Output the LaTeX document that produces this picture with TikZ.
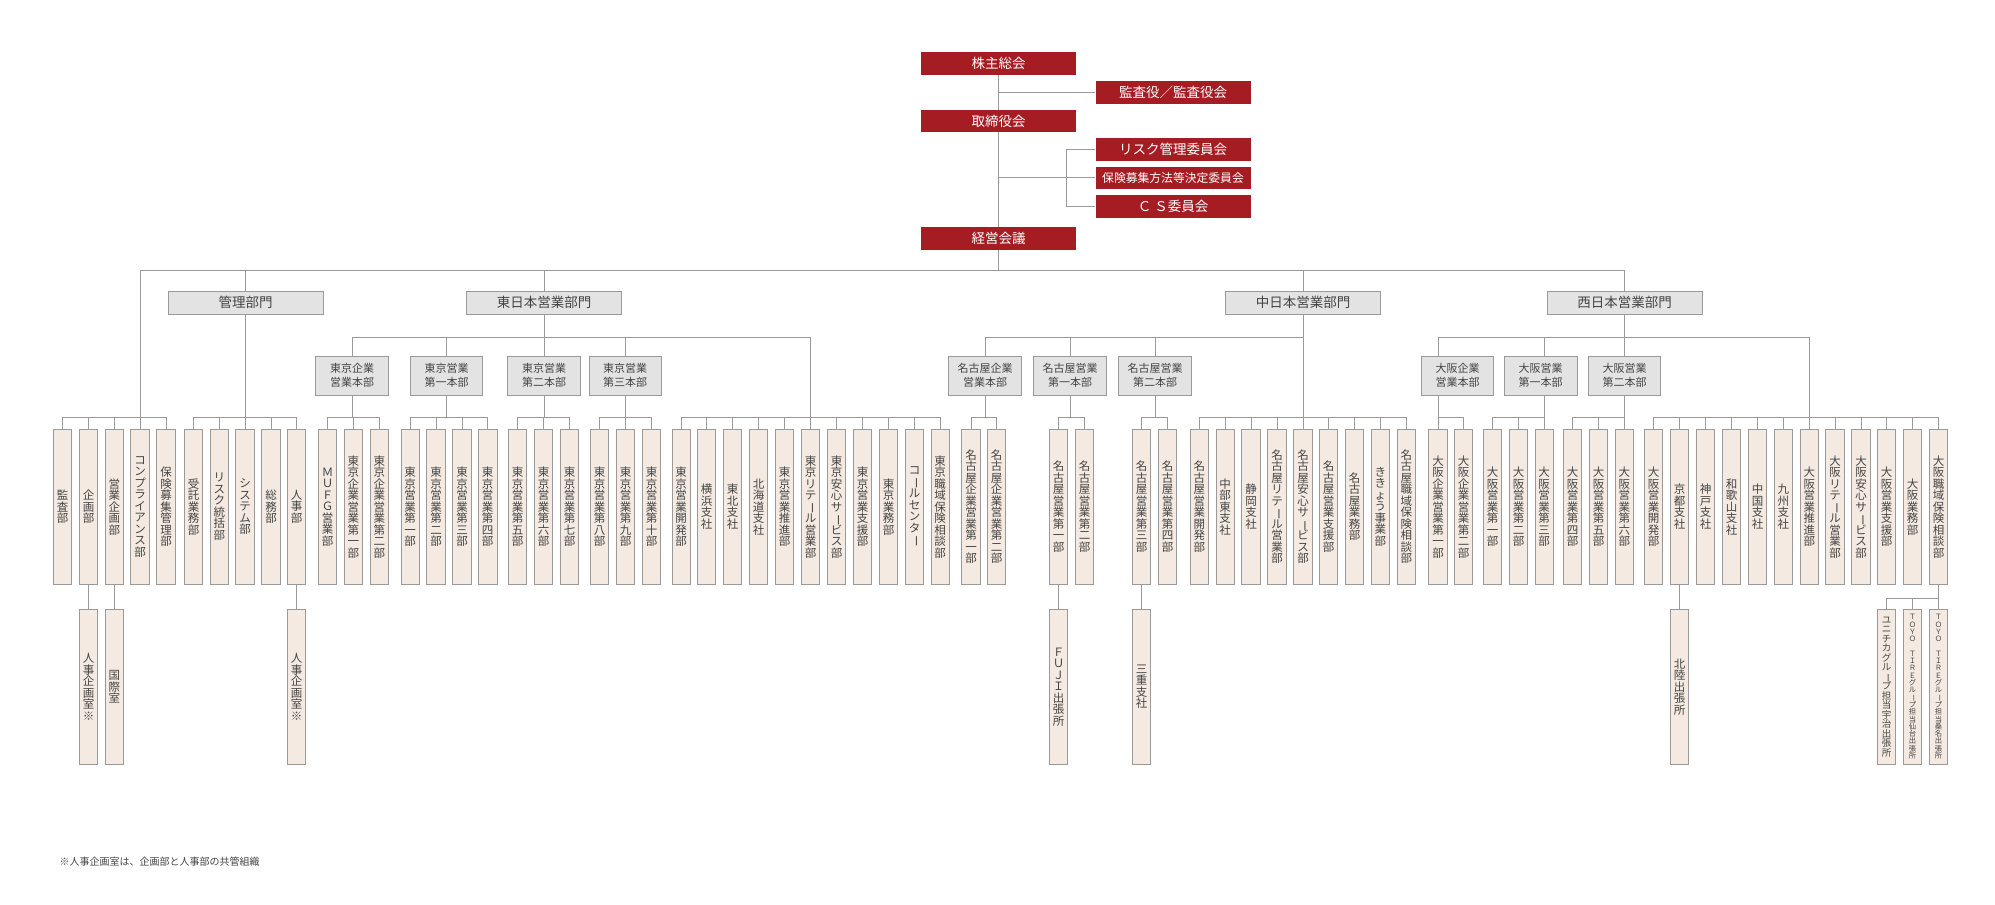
\documentclass[tikz,border=0pt]{standalone}
\usepackage{fontspec}
\setmainfont{Noto Sans CJK JP}
\usepackage{graphicx}
\definecolor{cRed}{HTML}{A61C23}
\definecolor{cGrey}{HTML}{E3E3E3}
\definecolor{cBeige}{HTML}{F4EAE1}
\definecolor{cLine}{HTML}{9A9A9A}
\definecolor{cText}{HTML}{444444}
\pgfdeclarelayer{bg}\pgfsetlayers{bg,main}
% tate-gaki
\newcommand\chouon{\rotatebox[origin=c]{-90}{ー}}
\makeatletter
\newcommand\tate[1]{\vbox{\baselineskip=1.0em\lineskiplimit=-20pt\lineskip=0pt\tate@a#1\@nil}}
\def\tate@a#1{\ifx#1\@nil\else\hbox to 1em{\hss#1\hss}\expandafter\tate@a\fi}
\makeatother
\tikzset{
  sen/.style={draw=cLine,line width=0.9pt},
  kaigi/.style={fill=cRed,text=white,minimum width=155pt,minimum height=22.5pt,inner sep=0pt,font=\fontsize{13.5}{14}\selectfont},
  bumon/.style={draw=cLine,line width=0.9pt,fill=cGrey,text=cText,minimum width=155pt,minimum height=23pt,inner sep=0pt,font=\fontsize{13.5}{14}\selectfont},
  honbu/.style={draw=cLine,line width=0.9pt,fill=cGrey,text=cText,minimum width=72.5pt,minimum height=39pt,inner sep=0pt,align=center,font=\fontsize{11}{14}\selectfont},
  bu/.style={draw=cLine,line width=0.9pt,fill=cBeige,text=cText,minimum width=18.5pt,minimum height=155pt,inner sep=0pt,font=\fontsize{11.5}{11.5}\selectfont}
}
\begin{document}
\begin{tikzpicture}[x=1pt,y=-1pt]
    \useasboundingbox (0,0) rectangle (1995,905);
    % kaigi
    \node[kaigi] (kabu) at (998.5,63.7) {株主総会};
    \node[kaigi] (kansa) at (1173,92.5) {監査役／監査役会};
    \node[kaigi] (tori) at (998.5,121.2) {取締役会};
    \node[kaigi] (risk) at (1173,149.5) {リスク管理委員会};
    \node[kaigi,font=\fontsize{11.8}{12}\selectfont] (hoken) at (1173,177.8) {保険募集方法等決定委員会};
    \node[kaigi] (cs) at (1173,206.5) {Ｃ\hspace{3pt}Ｓ委員会};
    \node[kaigi] (keiei) at (998.5,238.5) {経営会議};
    % bumon
    \node[bumon] (kanri) at (245.5,302.5) {管理部門};\node[bumon] (east) at (544,302.5) {東日本営業部門};
    \node[bumon] (central) at (1303,302.5) {中日本営業部門};\node[bumon] (west) at (1624.5,302.5) {西日本営業部門};
    % honbu
    \node[honbu] (tkc) at (352,375.7) {東京企業\\営業本部};\node[honbu] (tk1) at (446.5,375.7) {東京営業\\第一本部};
    \node[honbu] (tk2) at (544,375.7) {東京営業\\第二本部};\node[honbu] (tk3) at (625.2,375.7) {東京営業\\第三本部};
    \node[honbu] (ngc) at (985,375.7) {名古屋企業\\営業本部};\node[honbu] (ng1) at (1070,375.7) {名古屋営業\\第一本部};
    \node[honbu] (ng2) at (1155,375.7) {名古屋営業\\第二本部};
    \node[honbu] (osc) at (1457.5,375.7) {大阪企業\\営業本部};\node[honbu] (os1) at (1540.7,375.7) {大阪営業\\第一本部};
    \node[honbu] (os2) at (1624.5,375.7) {大阪営業\\第二本部};
    % bu
    \node[bu] (a1) at (62.5,506.8) {\tate{監査部}};\node[bu] (a2) at (88.5,506.8) {\tate{企画部}};
    \node[bu] (a3) at (114.3,506.8) {\tate{営業企画部}};\node[bu] (a4) at (140,506.8) {\tate{コンプライアンス部}};
    \node[bu] (a5) at (166,506.8) {\tate{保険募集管理部}};
    \node[bu] (b1) at (193.5,506.8) {\tate{受託業務部}};\node[bu] (b2) at (219.3,506.8) {\tate{リスク統括部}};
    \node[bu] (b3) at (245,506.8) {\tate{システム部}};\node[bu] (b4) at (271,506.8) {\tate{総務部}};
    \node[bu] (b5) at (296.5,506.8) {\tate{人事部}};
    \node[bu] (c1) at (327.5,506.8) {\tate{ＭＵＦＧ営業部}};\node[bu] (c2) at (353.3,506.8) {\tate{東京企業営業第一部}};
    \node[bu] (c3) at (379.3,506.8) {\tate{東京企業営業第二部}};
    \node[bu] (d1) at (410.2,506.8) {\tate{東京営業第一部}};\node[bu] (d2) at (436,506.8) {\tate{東京営業第二部}};
    \node[bu] (d3) at (462,506.8) {\tate{東京営業第三部}};\node[bu] (d4) at (487.7,506.8) {\tate{東京営業第四部}};
    \node[bu] (e1) at (517.5,506.8) {\tate{東京営業第五部}};\node[bu] (e2) at (543.5,506.8) {\tate{東京営業第六部}};
    \node[bu] (e3) at (569.5,506.8) {\tate{東京営業第七部}};
    \node[bu] (f1) at (599.5,506.8) {\tate{東京営業第八部}};\node[bu] (f2) at (625.5,506.8) {\tate{東京営業第九部}};
    \node[bu] (f3) at (651.5,506.8) {\tate{東京営業第十部}};
    \node[bu] (g1) at (681.2,506.8) {\tate{東京営業開発部}};\node[bu] (g2) at (706.5,506.8) {\tate{横浜支社}};
    \node[bu] (g3) at (732.5,506.8) {\tate{東北支社}};\node[bu] (g4) at (758.5,506.8) {\tate{北海道支社}};
    \node[bu] (g5) at (784.5,506.8) {\tate{東京営業推進部}};\node[bu] (g6) at (810.5,506.8) {\tate{東京リテ\chouon ル営業部}};
    \node[bu] (g7) at (836.5,506.8) {\tate{東京安心サ\chouon ビス部}};\node[bu] (g8) at (862.5,506.8) {\tate{東京営業支援部}};
    \node[bu] (g9) at (888.5,506.8) {\tate{東京業務部}};\node[bu] (g10) at (914.5,506.8) {\tate{コ\chouon ルセンタ\chouon}};
    \node[bu] (g11) at (940.2,506.8) {\tate{東京職域保険相談部}};
    \node[bu] (h1) at (971,506.8) {\tate{名古屋企業営業第一部}};\node[bu] (h2) at (996.5,506.8) {\tate{名古屋企業営業第二部}};
    \node[bu] (i1) at (1058.5,506.8) {\tate{名古屋営業第一部}};\node[bu] (i2) at (1084.5,506.8) {\tate{名古屋営業第二部}};
    \node[bu] (j1) at (1141.5,506.8) {\tate{名古屋営業第三部}};\node[bu] (j2) at (1167.5,506.8) {\tate{名古屋営業第四部}};
    \node[bu] (k1) at (1199.3,506.8) {\tate{名古屋営業開発部}};\node[bu] (k2) at (1225.2,506.8) {\tate{中部東支社}};
    \node[bu] (k3) at (1251,506.8) {\tate{静岡支社}};\node[bu] (k4) at (1277,506.8) {\tate{名古屋リテ\chouon ル営業部}};
    \node[bu] (k5) at (1303,506.8) {\tate{名古屋安心サ\chouon ビス部}};\node[bu] (k6) at (1328.6,506.8) {\tate{名古屋営業支援部}};
    \node[bu] (k7) at (1354.6,506.8) {\tate{名古屋業務部}};\node[bu] (k8) at (1380.3,506.8) {\tate{ききょう事業部}};
    \node[bu] (k9) at (1406.3,506.8) {\tate{名古屋職域保険相談部}};
    \node[bu] (l1) at (1438,506.8) {\tate{大阪企業営業第一部}};\node[bu] (l2) at (1463.5,506.8) {\tate{大阪企業営業第二部}};
    \node[bu] (m1) at (1492.5,506.8) {\tate{大阪営業第一部}};\node[bu] (m2) at (1518.5,506.8) {\tate{大阪営業第二部}};
    \node[bu] (m3) at (1544.2,506.8) {\tate{大阪営業第三部}};
    \node[bu] (n1) at (1572.5,506.8) {\tate{大阪営業第四部}};\node[bu] (n2) at (1598.5,506.8) {\tate{大阪営業第五部}};
    \node[bu] (n3) at (1624.3,506.8) {\tate{大阪営業第六部}};
    \node[bu] (p1) at (1653.6,506.8) {\tate{大阪営業開発部}};\node[bu] (p2) at (1679.6,506.8) {\tate{京都支社}};
    \node[bu] (p3) at (1705.6,506.8) {\tate{神戸支社}};\node[bu] (p4) at (1731.6,506.8) {\tate{和歌山支社}};
    \node[bu] (p5) at (1757.6,506.8) {\tate{中国支社}};\node[bu] (p6) at (1783.3,506.8) {\tate{九州支社}};
    \node[bu] (p7) at (1809.3,506.8) {\tate{大阪営業推進部}};\node[bu] (p8) at (1835,506.8) {\tate{大阪リテ\chouon ル営業部}};
    \node[bu] (p9) at (1861,506.8) {\tate{大阪安心サ\chouon ビス部}};\node[bu] (p10) at (1886.6,506.8) {\tate{大阪営業支援部}};
    \node[bu] (p11) at (1912.6,506.8) {\tate{大阪業務部}};\node[bu] (p12) at (1938.6,506.8) {\tate{大阪職域保険相談部}};
    % shitsu / shutchojo
    \node[bu] (s1) at (88.5,686.8) {\tate{人事企画室※}};\node[bu] (s2) at (114.3,686.8) {\tate{国際室}};
    \node[bu] (s3) at (296.5,686.8) {\tate{人事企画室※}};
    \node[bu] (s4) at (1058.5,686.8) {\tate{ＦＵＪＩ出張所}};\node[bu] (s5) at (1141.5,686.8) {\tate{三重支社}};
    \node[bu] (s6) at (1679.6,686.8) {\tate{北陸出張所}};
    \node[bu,font=\fontsize{9.5}{9.5}\selectfont] (s7) at (1886.6,686.8) {\tate{ユニチカグル\chouon プ担当宇治出張所}};
    \node[bu,font=\fontsize{7.3}{7.3}\selectfont] (s8) at (1912.6,686.8) {\tate{ＴＯＹＯ~ＴＩＲＥグル\chouon プ担当仙台出張所}};
    \node[bu,font=\fontsize{7.3}{7.3}\selectfont] (s9) at (1938.6,686.8) {\tate{ＴＯＹＯ~ＴＩＲＥグル\chouon プ担当桑名出張所}};
    % chu
    \node[anchor=west,text=cText,font=\fontsize{10}{10}\selectfont] (note) at (56,862) {※人事企画室は、企画部と人事部の共管組織};
    % sen
    \coordinate (top) at (0,270.3);\coordinate (mid) at (0,337);\coordinate (bus) at (0,417.5);\coordinate (bus3) at (0,598.3);
    \coordinate (brk) at (1066,0);
    \begin{pgfonlayer}{bg}
    \draw[sen] (kabu) -- (keiei);
    \draw[sen] (kansa.west) -- (kansa.west -| kabu);\draw[sen] (hoken.west) -- (hoken.west -| tori);
    \draw[sen] (risk.west) -| (brk |- cs.west) -- (cs.west);
    \draw[sen] (keiei) -- (keiei |- top);
    \draw[sen] (a4.north) |- (west.north |- top) -- (west.north);
    \draw[sen] (kanri.north) -- (kanri.north |- top);\draw[sen] (east.north) -- (east.north |- top);
    \draw[sen] (central.north) -- (central.north |- top);
    % mid
    \draw[sen] (tkc.north) |- (g6.north |- mid) -- (g6.north);
    \draw[sen] (tk1.north) -- (tk1.north |- mid);\draw[sen] (tk3.north) -- (tk3.north |- mid);
    \draw[sen] (ngc.north) |- (central.south |- mid);
    \draw[sen] (ng1.north) -- (ng1.north |- mid);\draw[sen] (ng2.north) -- (ng2.north |- mid);
    \draw[sen] (l1.north) |- (p7.north |- mid) -- (p7.north);
    \draw[sen] (m3.north) -- (m3.north |- mid);
    % bus
    \draw[sen] (kanri.south) -- (kanri.south |- bus);\draw[sen] (east.south) -- (east.south |- bus);
    \draw[sen] (central.south) -- (central.south |- bus);\draw[sen] (west.south) -- (west.south |- bus);
    \draw[sen] (tkc.south) -- (tkc.south |- bus);\draw[sen] (tk1.south) -- (tk1.south |- bus);
    \draw[sen] (tk3.south) -- (tk3.south |- bus);
    \draw[sen] (ngc.south) -- (ngc.south |- bus);\draw[sen] (ng1.south) -- (ng1.south |- bus);
    \draw[sen] (ng2.south) -- (ng2.south |- bus);
    \draw[sen] (a1.north) |- (a5.north |- bus) -- (a5.north);\draw[sen] (b1.north) |- (b5.north |- bus) -- (b5.north);
    \draw[sen] (c1.north) |- (c3.north |- bus) -- (c3.north);\draw[sen] (d1.north) |- (d4.north |- bus) -- (d4.north);
    \draw[sen] (e1.north) |- (e3.north |- bus) -- (e3.north);\draw[sen] (f1.north) |- (f3.north |- bus) -- (f3.north);
    \draw[sen] (g1.north) |- (g11.north |- bus) -- (g11.north);\draw[sen] (h1.north) |- (h2.north |- bus) -- (h2.north);
    \draw[sen] (i1.north) |- (i2.north |- bus) -- (i2.north);\draw[sen] (j1.north) |- (j2.north |- bus) -- (j2.north);
    \draw[sen] (k1.north) |- (k9.north |- bus) -- (k9.north);\draw[sen] (l1.north) |- (l2.north |- bus) -- (l2.north);
    \draw[sen] (m1.north) |- (m3.north |- bus) -- (m3.north);\draw[sen] (n1.north) |- (n3.north |- bus) -- (n3.north);
    \draw[sen] (p1.north) |- (p12.north |- bus) -- (p12.north);
    \foreach \b in {a2,a3,b2,b3,b4,c2,d2,d3,e2,f2,g2,g3,g4,g5,g7,g8,g9,g10,k2,k3,k4,k5,k6,k7,k8,m2,n2,p2,p3,p4,p5,p6,p8,p9,p10,p11}
      \draw[sen] (\b.north) -- (\b.north |- bus);
    % shita
    \draw[sen] (a2.south) -- (s1.north);\draw[sen] (a3.south) -- (s2.north);\draw[sen] (b5.south) -- (s3.north);
    \draw[sen] (i1.south) -- (s4.north);\draw[sen] (j1.south) -- (s5.north);\draw[sen] (p2.south) -- (s6.north);
    \draw[sen] (p12.south) -- (s9.north);
    \draw[sen] (s7.north) |- (s9.north |- bus3);\draw[sen] (s8.north) -- (s8.north |- bus3);
    \end{pgfonlayer}
\end{tikzpicture}
\end{document}
